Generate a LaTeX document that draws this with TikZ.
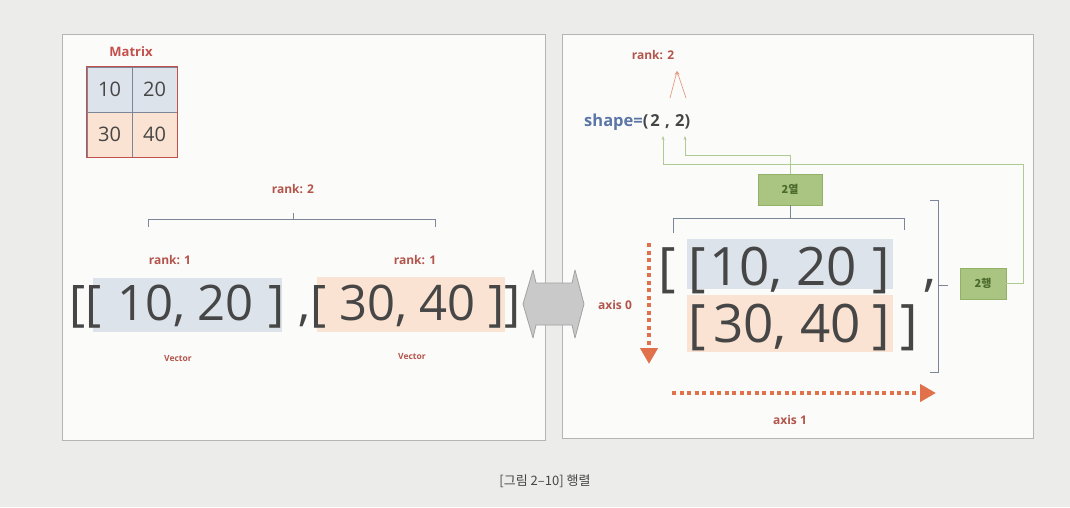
\documentclass[tikz,border=0pt]{standalone}
\usepackage{fontspec}
\setmainfont{Open Sans}
\newfontfamily\krfont{Noto Sans CJK KR}
\usetikzlibrary{arrows.meta,calc}
\definecolor{pagebg}{HTML}{ECECEA}
\definecolor{panelbg}{HTML}{FBFBFA}
\definecolor{panelline}{HTML}{B4B4B4}
\definecolor{textgray}{HTML}{464646}
\definecolor{rankred}{HTML}{B4554C}
\definecolor{matred}{HTML}{C4504C}
\definecolor{blueF}{HTML}{DDE3EB}
\definecolor{peachF}{HTML}{FAE3D2}
\definecolor{brgray}{HTML}{7C8698}
\definecolor{tagfill}{HTML}{A9C581}
\definecolor{tagline}{HTML}{92B167}
\definecolor{tagtext}{HTML}{4B6A2C}
\definecolor{axisred}{HTML}{E0714B}
\definecolor{shapeblue}{HTML}{5B76A6}
\definecolor{greenline}{HTML}{AFCB92}
\definecolor{pinkline}{HTML}{E59B84}
\definecolor{arrowfill}{HTML}{C9C9C9}
\definecolor{arrowline}{HTML}{A2A2A2}
\begin{document}
\begin{tikzpicture}[x=1pt,y=-1pt,
  panel/.style={draw=panelline,fill=panelbg,line width=0.9pt},
  lbl/.style={font=\bfseries\fontsize{12}{14}\selectfont,text=rankred,inner sep=0},
  veclbl/.style={font=\bfseries\fontsize{8.5}{10}\selectfont,text=rankred,inner sep=0},
  big/.style={font=\fontsize{49}{52}\selectfont,text=textgray,inner sep=0,anchor=base west},
  bigger/.style={big,font=\fontsize{53}{56}\selectfont},
  cell/.style={minimum width=45,minimum height=45,inner sep=0,draw=brgray,line width=0.6pt,
    font=\fontsize{20}{22}\selectfont,text=textgray},
  tagbox/.style={fill=tagfill,draw=tagline,line width=0.6pt,minimum height=31,inner sep=0,
    font=\krfont\bfseries\fontsize{11}{12}\selectfont,text=tagtext},
  bracketline/.style={draw=brgray,line width=0.9pt},
  axisarrow/.style={draw=axisred,line width=4pt,dash pattern=on 4pt off 3.5pt,
    -{Triangle[length=16pt,width=17pt]}},
  greenconn/.style={draw=greenline,line width=0.8pt,-{Stealth[length=4pt,width=3pt]}},
  pinkconn/.style={draw=pinkline,line width=0.7pt,-{Stealth[length=4pt,width=3pt]}}]

% page and the two panels
\fill[pagebg] (0,0) rectangle (1070,507);
\useasboundingbox (0,0) rectangle (1070,507);
\draw[panel] (62,34) rectangle (545,440);
\draw[panel] (562,34) rectangle (1033,438);

% ---------- left panel: the 2x2 matrix ----------
\node[font=\bfseries\fontsize{13}{15}\selectfont,text=matred] (mattitle) at (131,52) {Matrix};
\node[cell,fill=blueF]  (c11) at (109.5,89.5)  {10};
\node[cell,fill=blueF]  (c12) at (154.5,89.5)  {20};
\node[cell,fill=peachF] (c21) at (109.5,134.5) {30};
\node[cell,fill=peachF] (c22) at (154.5,134.5) {40};
\draw[matred,line width=1.4pt] (c11.north west) rectangle (c22.south east);

% rank 2 brace over the nested list
\node[lbl] (lrank2) at (293,189) {rank: 2};
\coordinate (lbrL) at (148,227);
\coordinate (lbrR) at (435,227);
\draw[bracketline] (lbrL) -- (148,219) -- (435,219) -- (lbrR);
\draw[bracketline] (293,219) -- (293,213);

\node[lbl] (lrank1a) at (170,260) {rank: 1};
\node[lbl] (lrank1b) at (415,260) {rank: 1};

% highlighted inner vectors
\fill[blueF]  (93,278) rectangle (282,332);
\fill[peachF] (317,277) rectangle (505,332);
\node[big] (lopen)  at (69,320)  {[[};
\node[big] (lvec1)  at (117,320) {10, 20};
\node[big] (lclose1) at (268,320) {]};
\node[big] (lcomma) at (298,320) {,};
\node[big] (lopen2) at (310,320) {[};
\node[big] (lvec2)  at (339,320) {30, 40};
\node[big] (lclose2) at (488,320) {]]};

\node[veclbl] (vec1) at (178,358) {Vector};
\node[veclbl] (vec2) at (412,356) {Vector};

% ---------- double arrow between the panels ----------
\draw[fill=arrowfill,draw=arrowline,line width=0.8pt,line join=round]
  (523,304) -- (533,270) -- (536,283) -- (572,283) -- (575,270) -- (584,304)
  -- (575,338) -- (572,325) -- (536,325) -- (533,338) -- cycle;

% ---------- right panel ----------
\node[lbl] (rrank2) at (653,55) {rank: 2};
\node[font=\bfseries\fontsize{16.5}{18}\selectfont,inner sep=0,anchor=base west] (shp) at (584,126)
  {\textcolor{shapeblue}{shape=}\textcolor{textgray}{(\hspace{2pt}2\hspace{1pt} ,\hspace{1pt} 2)}};

\coordinate (rk) at (677,71);
\coordinate (s1top) at (670,98);
\coordinate (s2top) at (686,98);
\draw[pinkconn] (s1top) -- (rk);
\draw[pinkconn] (s2top) -- (rk);

% column / row count tags
\node[tagbox,minimum width=64] (cols) at (790,189.5) {2열};
\node[tagbox,minimum width=46] (rows) at (983,283.5) {2행};

\coordinate (s1bot) at (663,136);
\coordinate (s2bot) at (685,136);
\draw[greenconn] (rows.east) -- (1023,283.5) -- (1023,164) -- (663,164) -- (s1bot);
\draw[greenconn] (cols.north) -- (790,155) -- (685,155) -- (s2bot);

% brace over the columns
\draw[bracketline] (cols.south) -- (790,218);
\draw[bracketline] (673,233) -- (673,218) -- (904,218) -- (904,230);
% brace beside the rows
\draw[bracketline] (930,200) -- (938,200) -- (938,372) -- (930,372);
\draw[bracketline] (938,285) -- (948,285);

% highlighted rows
\fill[blueF]  (687,239) rectangle (893,289);
\fill[peachF] (687,295) rectangle (893,352);
\node[bigger] (ropen)   at (658,285) {[};
\node[bigger] (ropen1)  at (688,285) {[};
\node[bigger] (rvec1)   at (709,285) {10, 20};
\node[bigger] (rclose1) at (872,285) {]};
\node[bigger] (rcomma)  at (923,285) {,};
\node[bigger] (ropen2)  at (688,342) {[};
\node[bigger] (rvec2)   at (713,342) {30, 40};
\node[bigger] (rclose2) at (872,342) {]};
\node[bigger] (rclose)  at (900,342) {]};

% axes
\coordinate (ax0s) at (649,243);
\coordinate (ax0e) at (649,364);
\draw[axisarrow] (ax0s) -- (ax0e);
\node[lbl] (ax0) at (615,305) {axis 0};
\coordinate (ax1s) at (672,393);
\coordinate (ax1e) at (936,393);
\draw[axisarrow] (ax1s) -- (ax1e);
\node[lbl] (ax1) at (790,420) {axis 1};

% caption
\node[font=\krfont\fontsize{13}{15}\selectfont,text=textgray] (cap) at (545,481) {[그림 2–10] 행렬};
\end{tikzpicture}
\end{document}
